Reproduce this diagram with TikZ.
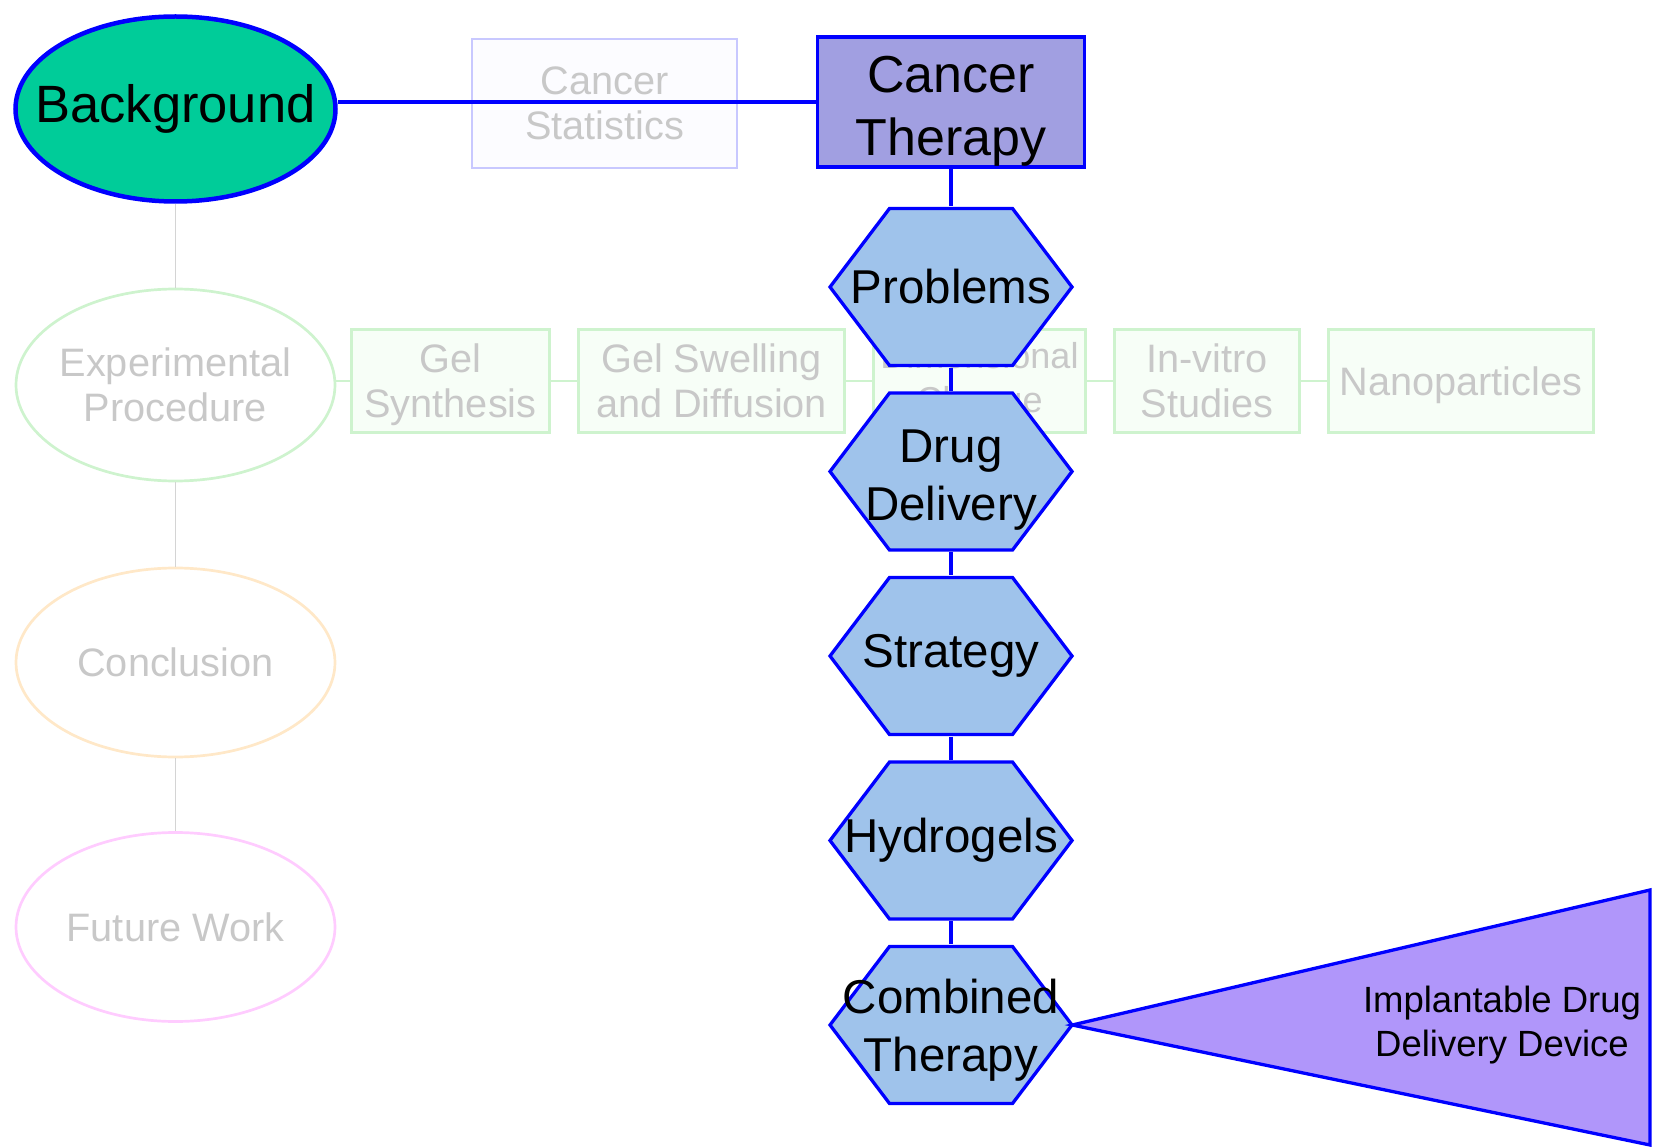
\documentclass[tikz,border=0pt]{standalone}
\usepackage{fontspec}
\setmainfont{Liberation Sans}
\usetikzlibrary{shapes.geometric}

\definecolor{linkblue}{RGB}{0,0,255}
\definecolor{bgfill}{RGB}{0,204,153}
\definecolor{therapyfill}{RGB}{161,159,225}
\definecolor{hexfill}{RGB}{159,195,235}
\definecolor{devfill}{RGB}{176,150,250}
\definecolor{fadetext}{RGB}{200,200,200}
\definecolor{fadeline}{RGB}{212,212,212}
\definecolor{statline}{RGB}{200,200,255}
\definecolor{statfill}{RGB}{252,252,255}
\definecolor{greenline}{RGB}{206,243,206}
\definecolor{greenfill}{RGB}{247,254,247}
\definecolor{orangeline}{RGB}{255,232,200}
\definecolor{pinkline}{RGB}{255,204,255}

\begin{document}
\begin{tikzpicture}[x=1pt,y=-1pt,
  fadefont/.style={font=\fontsize{39.7}{44.4}\selectfont, text=fadetext, align=center},
  topic/.style={ellipse, inner xsep=-45pt, inner ysep=0pt, line width=2.7pt, minimum width=319pt},
  fadebox/.style={rectangle, fadefont, inner sep=0pt, line width=2.7pt,
    draw=greenline, fill=greenfill, minimum height=103pt},
  statbox/.style={rectangle, fadefont, inner sep=0pt, line width=2.7pt,
    draw=statline, fill=statfill, minimum width=265pt, minimum height=129pt},
  therapybox/.style={rectangle, inner sep=0pt, line width=3.3pt, draw=linkblue,
    fill=therapyfill, minimum width=267pt, minimum height=130pt, align=center,
    font=\fontsize{52}{63}\selectfont},
  hexbox/.style={rectangle, inner sep=0pt, minimum width=247pt, minimum height=161pt,
    align=center, font=\fontsize{47.5}{58}\selectfont,
    path picture={
      \draw[line width=3.3pt, draw=linkblue, fill=hexfill]
        ([shift={(-121pt,0pt)}]path picture bounding box.center)
        -- ++(59.5pt,78.5pt) -- ++(123pt,0pt) -- ++(59.5pt,-78.5pt)
        -- ++(-59.5pt,-78.5pt) -- ++(-123pt,0pt) -- cycle;
    }},
  link/.style={draw=linkblue, line width=3.3pt},
  greylink/.style={draw=fadeline, line width=1.5pt},
  greenlink/.style={draw=greenline, line width=2.7pt},
]
\useasboundingbox (0,0) rectangle (1658,1147);

% faded outline: chapters on the left, sub-topics in the middle row
\node[topic, draw=greenline, fadefont, minimum height=192pt] (exp) at (175.5,385) {Experimental\\Procedure};
\node[topic, draw=orangeline, fadefont, minimum height=189pt] (concl) at (175.5,662.5) {Conclusion};
\node[topic, draw=pinkline, fadefont, minimum height=189pt] (future) at (175.5,927) {Future Work};

\node[statbox] (stats) at (604.5,103.5) {Cancer\\Statistics};

\node[fadebox, minimum width=198.5pt, text height=81pt] (gs) at (450.5,381) {Gel\\Synthesis};
\node[fadebox, minimum width=266.5pt] (gsd) at (711.5,381) {Gel Swelling\\and Diffusion};
\node[fadebox, minimum width=212.5pt, font=\fontsize{36}{44.4}\selectfont] (dc) at (979.5,381) {Dimensional\\Change};
\node[fadebox, minimum width=185.5pt] (ivs) at (1207,381) {In-vitro\\Studies};
\node[fadebox, minimum width=265.5pt, text depth=0pt] (np) at (1461,381) {Nanoparticles};

% main branch
\node[topic, draw=linkblue, fill=bgfill, line width=4.5pt, minimum width=320pt,
  minimum height=185pt, font=\fontsize{52.5}{60}\selectfont] (bg) at (175.5,109) {Background};

\draw[greylink] (bg.south) -- (exp.north);
\draw[greylink] (exp.south) -- (concl.north);
\draw[greylink] (concl.south) -- (future.north);

\draw[greenlink] (gs.west) -- (gs.west -| exp.east);
\draw[greenlink] (gs.east) -- (gsd.west);
\draw[greenlink] (gsd.east) -- (dc.west);
\draw[greenlink] (dc.east) -- (ivs.west);
\draw[greenlink] (ivs.east) -- (np.west);

\node[therapybox, text height=117pt] (ct) at (951,102) {Cancer\\Therapy};

\node[hexbox] (prob) at (951,287) {Problems};
\node[hexbox, text height=108pt] (drug) at (951,471.5) {Drug\\Delivery};
\node[hexbox] (strat) at (951,656) {Strategy};
\node[hexbox] (hydro) at (951,840.5) {Hydrogels};
\node[hexbox, text height=103pt] (comb) at (951,1025) {Combined\\Therapy};

% implantable device wedge
\coordinate (tip) at ([xshift=-2.5pt]comb.east);
\draw[line width=3.3pt, draw=linkblue, fill=devfill] (tip) -- (1650,890) -- (1650,1145) -- cycle;
\node[align=center, font=\fontsize{36.5}{44}\selectfont] (impl) at (1502,1025) {Implantable Drug\\Delivery Device};

\draw[link] (ct.west) -- (ct.west -| bg.east);
\draw[link] (ct.south) -- (prob.north);
\draw[link] (prob.south) -- (drug.north);
\draw[link] (drug.south) -- (strat.north);
\draw[link] (strat.south) -- (hydro.north);
\draw[link] (hydro.south) -- (comb.north);
\end{tikzpicture}
\end{document}
